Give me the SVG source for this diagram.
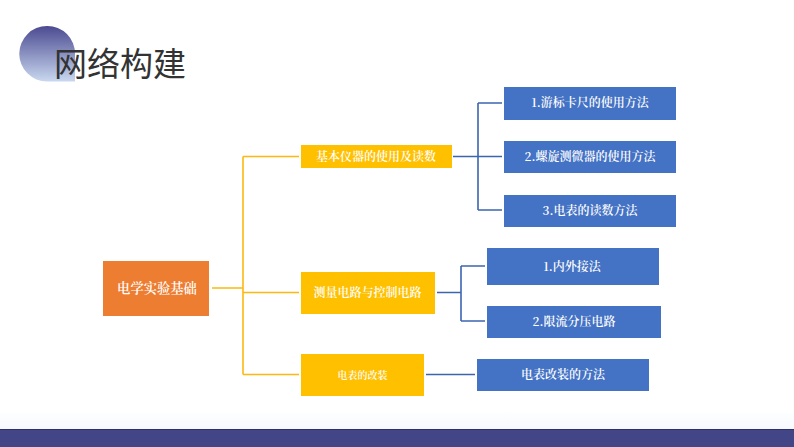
<svg xmlns="http://www.w3.org/2000/svg" width="794" height="447" viewBox="0 0 794 447">
<defs>
<linearGradient id="c" x1="0" y1="0" x2="0" y2="1"><stop offset="0" stop-color="#4b4a91"/><stop offset="1" stop-color="#c9d8ef"/></linearGradient>
<linearGradient id="b" x1="0" y1="0" x2="0" y2="1"><stop offset="0" stop-color="#ffffff"/><stop offset="1" stop-color="#f6f9fe"/></linearGradient>
</defs>
<style>
.t{font-family:"Noto Sans CJK SC","Noto Sans",sans-serif;}
.s{font-family:"Noto Serif CJK SC","Liberation Serif","Noto Sans CJK SC",serif;fill:#fff;text-anchor:middle;font-size:12px;font-weight:600}
.o{stroke:#fcb90f;stroke-width:1.6;fill:none}
.u{stroke:#3c65ae;stroke-width:1.6;fill:none}
.y{fill:#ffc000}.bl{fill:#4472c4}
</style>
<rect width="794" height="447" fill="#fff"/>
<rect x="0" y="410" width="794" height="19" fill="url(#b)"/>
<g id="footer"><rect x="0" y="429" width="794" height="18" fill="#424586"/><rect x="0" y="429" width="794" height="1" fill="#2f3168"/></g>
<g id="title">
<path d="M47 26A27.500 27.500 0 1 0 47 81.500 L75 81.500 L75 54 A27.500 27.500 0 0 0 47 26Z" fill="url(#c)"/>
<text class="t" x="54" y="76" font-size="33" fill="#333">网络构建</text>
</g>
<g id="connectors">
<path class="o" d="M212 288H243M243 156.500V374.500M243 156.500H299M243 292.500H299M243 374.500H299"/>
<path class="u" d="M453 156.500H502M478 103V210M478 103H502M478 210H502"/>
<path class="u" d="M437 292.500H461M461 266V321M461 266H485M461 321H485"/>
<path class="u" d="M426 374.500H475"/>
</g>
<g id="root"><rect x="103" y="261" width="106" height="55" fill="#ed7d31"/><text class="s" x="157" y="292.500" style="font-size:13.300px">电学实验基础</text></g>
<g id="n1"><rect class="y" x="301" y="145" width="151" height="23"/><text class="s" x="376" y="160.500">基本仪器的使用及读数</text></g>
<g id="n2"><rect class="y" x="301" y="272" width="134" height="42"/><text class="s" x="367.500" y="297">测量电路与控制电路</text></g>
<g id="n3"><rect class="y" x="301" y="354" width="123" height="42"/><text class="s" x="362.500" y="378.500" style="font-size:10px">电表的改装</text></g>
<g id="a1"><rect class="bl" x="504" y="87" width="172" height="33"/><text class="s" x="590" y="107">1.游标卡尺的使用方法</text></g>
<g id="a2"><rect class="bl" x="504" y="141" width="172" height="32"/><text class="s" x="590" y="161">2.螺旋测微器的使用方法</text></g>
<g id="a3"><rect class="bl" x="504" y="195" width="172" height="32"/><text class="s" x="590" y="215">3.电表的读数方法</text></g>
<g id="b1"><rect class="bl" x="487" y="248" width="172" height="37"/><text class="s" x="572" y="271">1.内外接法</text></g>
<g id="b2"><rect class="bl" x="487" y="306" width="174" height="32"/><text class="s" x="574" y="326">2.限流分压电路</text></g>
<g id="c1"><rect class="bl" x="477" y="359" width="172" height="32"/><text class="s" x="563" y="379">电表改装的方法</text></g>
</svg>
